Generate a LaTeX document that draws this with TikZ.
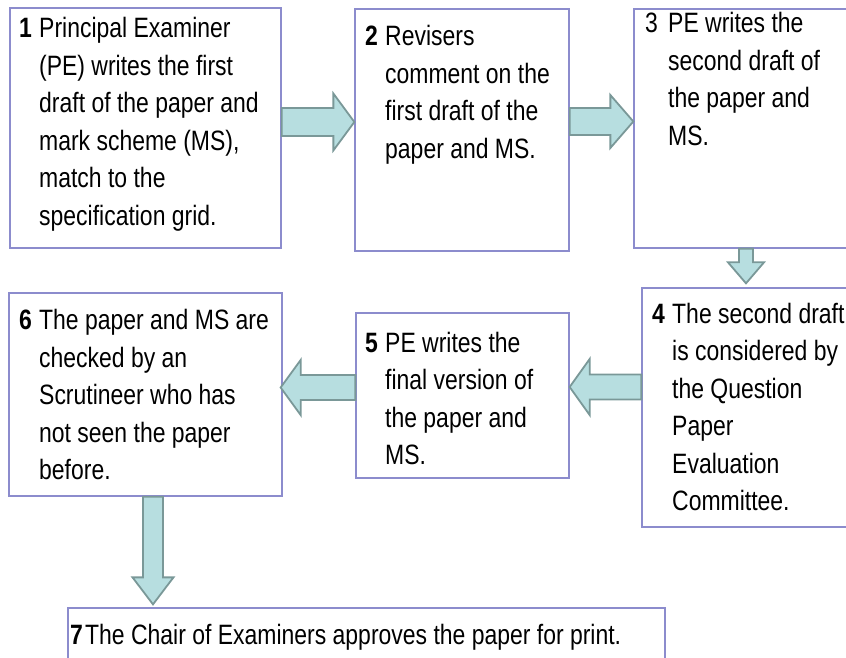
\documentclass[tikz,border=0pt]{standalone}
\usepackage{fontspec}
\setmainfont{Liberation Sans}[FakeStretch=0.82]
\usetikzlibrary{positioning, calc}
\definecolor{boxline}{RGB}{140,140,205}
\definecolor{arrowfill}{RGB}{183,222,224}
\definecolor{arrowline}{RGB}{122,152,152}
\newcommand\stepfont{\fontsize{28}{37.5}\selectfont}
% number, then the text with a hanging indent
\newcommand\stepno[3][20pt]{\makebox[#1][l]{\bfseries #2}\parbox[t]{600pt}{\raggedright #3}}
\tikzset{
  stepbox/.style={rectangle, draw=boxline, line width=1.3pt, fill=white},
  steptext/.style={anchor=base west, inner sep=0pt, font=\stepfont},
  barrow/.style={draw=arrowline, fill=arrowfill, line width=1.8pt},
}
% block arrow: tail, tip, shaft half width, head half width, head length
\newcommand\blockarrow[5]{%
  \coordinate (ba-t) at (#1);
  \coordinate (ba-p) at (#2);
  \coordinate (ba-h) at ($(ba-p)!#5!(ba-t)$);
  \draw[barrow] ($(ba-t)!#3!90:(ba-p)$) -- ($(ba-h)!#3!90:(ba-p)$)
    -- ($(ba-h)!#4!90:(ba-p)$) -- (ba-p) -- ($(ba-h)!#4!-90:(ba-p)$)
    -- ($(ba-h)!#3!-90:(ba-p)$) -- ($(ba-t)!#3!-90:(ba-p)$) -- cycle;
}

\begin{document}
\begin{tikzpicture}[x=1pt, y=1pt]
        \useasboundingbox (0,0) rectangle (846,657);
        \clip (0,0) rectangle (846,657);

        % Top row
        \node[stepbox, minimum width=271pt, minimum height=240pt] (s1) at (145.5,529) {};
        \node[stepbox, minimum width=214pt, minimum height=242pt] (s2) at (462,527) {};
        \node[stepbox, minimum width=218pt, minimum height=239pt] (s3) at (743,528.5) {};

        % Middle row
        \node[stepbox, minimum width=210pt, minimum height=239pt] (s4) at (747,249.5) {};
        \node[stepbox, minimum width=213pt, minimum height=165pt] (s5) at (462.5,261.5) {};
        \node[stepbox, minimum width=273pt, minimum height=203pt] (s6) at (145.5,262.5) {};

        % Final step
        \node[stepbox, minimum width=597pt, minimum height=54pt] (s7) at (366.5,22) {};

        % Step texts
        \node[steptext] (t1) at (19,619) {\stepno{1}{Principal Examiner\\(PE) writes the first\\draft of the paper and\\mark scheme (MS),\\match to the\\specification grid.}};
        \node[steptext] (t2) at (365,611) {\stepno{2}{Revisers\\comment on the\\first draft of the\\paper and MS.}};
        \node[steptext] (t3) at (645,624) {\stepno[23pt]{\mdseries 3}{PE writes the\\second draft of\\the paper and\\MS.}};
        \node[steptext] (t4) at (652,334) {\stepno{4}{The second draft\\is considered by\\the Question\\Paper\\Evaluation\\Committee.}};
        \node[steptext] (t5) at (365,305) {\stepno{5}{PE writes the\\final version of\\the paper and\\MS.}};
        \node[steptext] (t6) at (19,327) {\stepno{6}{The paper and MS are\\checked by an\\Scrutineer who has\\not seen the paper\\before.}};
        \node[steptext] (t7) at (70,13) {\stepno[15pt]{7}{The Chair of Examiners approves the paper for print.}};

        % Arrows between steps
        \blockarrow{[yshift=6pt]s1.east}{[yshift=8pt]s2.west}{14pt}{28.5pt}{21pt}
        \blockarrow{[yshift=8.5pt]s2.east}{[yshift=7pt]s3.west}{13.5pt}{26.5pt}{23pt}
        \blockarrow{[xshift=3pt]s3.south}{[shift={(-1pt,4pt)}]s4.north}{7pt}{18pt}{21pt}
        \blockarrow{[yshift=20.5pt]s4.west}{[yshift=8.5pt]s5.east}{12.5pt}{28pt}{20pt}
        \blockarrow{[yshift=8pt]s5.west}{[shift={(-2pt,7pt)}]s6.east}{12.5pt}{27.5pt}{20pt}
        \coordinate (c67) at ([xshift=7.5pt]s6.south);
        \blockarrow{c67}{[yshift=3pt]s7.north -| c67}{10pt}{20.5pt}{27pt}
\end{tikzpicture}
\end{document}
